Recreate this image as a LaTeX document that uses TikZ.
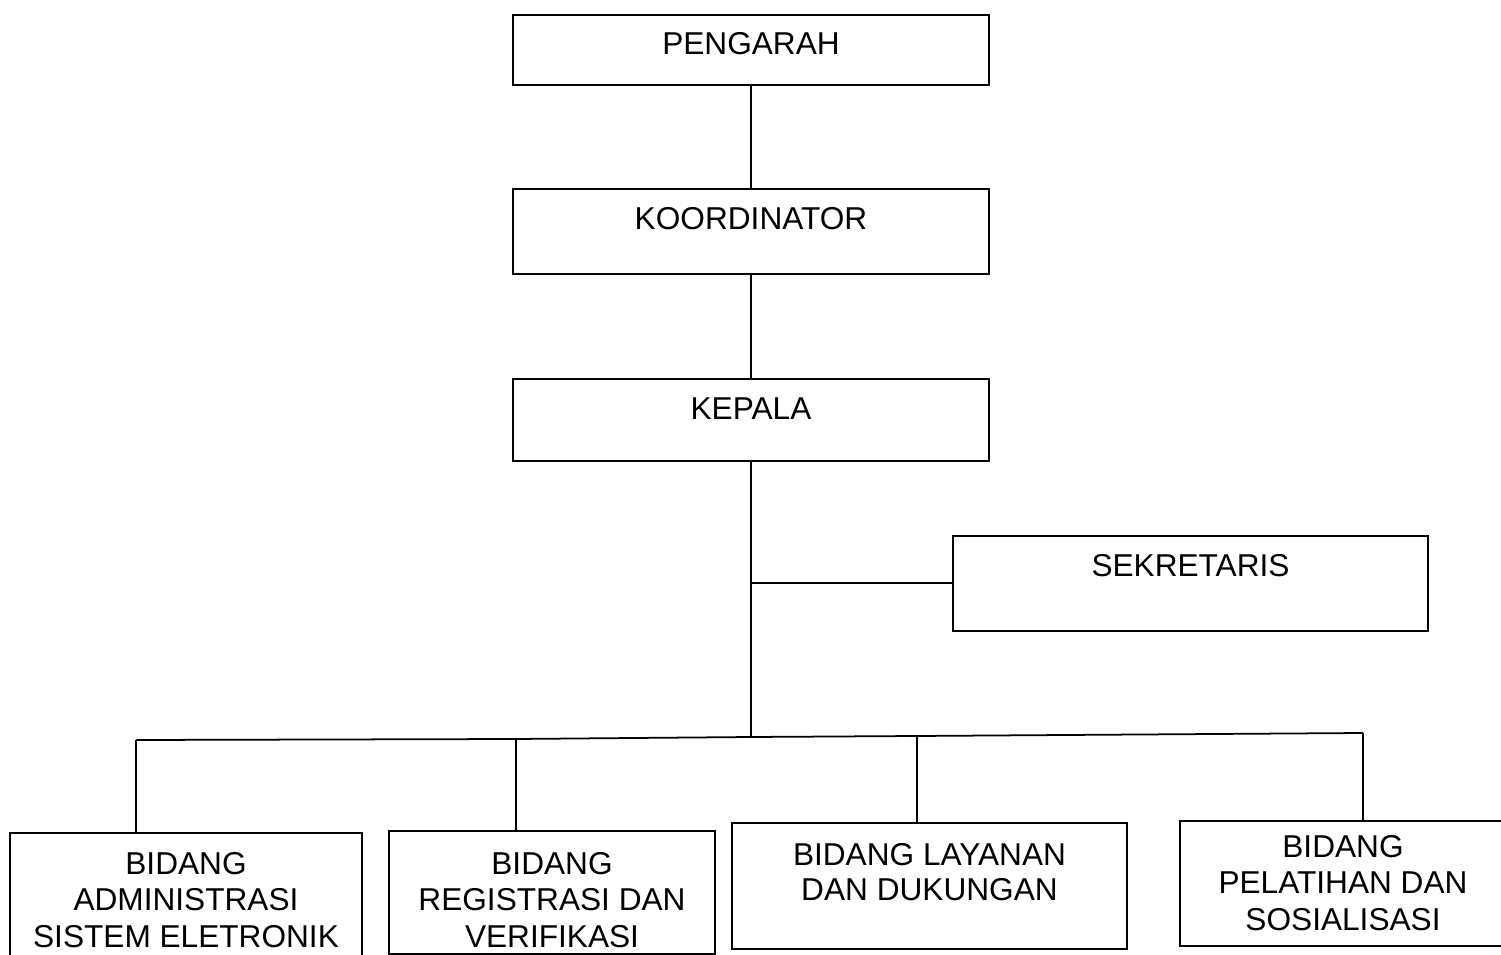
\documentclass[tikz,border=0pt]{standalone}
\usepackage{fontspec}
\setmainfont{Liberation Sans}
\tikzset{
  unit/.style={draw, line width=1pt, inner xsep=0pt, inner ysep=0pt,
    align=center, anchor=north, font=\fontsize{18}{21}\selectfont},
  link/.style={line width=1pt}
}
\begin{document}
\begin{tikzpicture}[x=0.02cm, y=-0.02cm]
  \useasboundingbox (0,0) rectangle (1501,955);
  \clip (0,0) rectangle (1501,955);
  % Top chain
  \node[unit, minimum width=9.52cm, text height=0.8cm, text depth=0.6cm]
    (pengarah) at (751,14) {PENGARAH};
  \node[unit, minimum width=9.52cm, text height=0.82cm, text depth=0.88cm]
    (koordinator) at (751,188) {KOORDINATOR};
  \node[unit, minimum width=9.52cm, text height=0.82cm, text depth=0.82cm]
    (kepala) at (751,378) {KEPALA};
  \node[unit, minimum width=9.5cm, text height=0.82cm, text depth=1.08cm]
    (sekretaris) at (1190.5,535) {SEKRETARIS};
  % Bidang
  \node[unit, minimum width=7.04cm, text height=2.3cm, text depth=0.56cm]
    (adm) at (186,832) {BIDANG\\ADMINISTRASI\\SISTEM ELETRONIK};
  \node[unit, minimum width=6.52cm, text height=2.34cm, text depth=0.12cm]
    (reg) at (552,830) {BIDANG\\REGISTRASI DAN\\VERIFIKASI};
  \node[unit, minimum width=7.9cm, text height=1.56cm, text depth=0.96cm,
    font=\fontsize{18}{20}\selectfont]
    (lay) at (929.5,822) {BIDANG LAYANAN\\DAN DUKUNGAN};
  \node[unit, minimum width=6.52cm, text height=2.2cm, text depth=0.3cm]
    (pel) at (1343,820) {BIDANG\\PELATIHAN DAN\\SOSIALISASI};
  % Bus
  \coordinate (bus) at (751,737);
  \coordinate (d1) at (136,740);
  \coordinate (d2) at (516,739);
  \coordinate (d3) at (917,736);
  \coordinate (d4) at (1363,733);
  % Connectors
  \draw[link] (pengarah.south) -- (koordinator.north);
  \draw[link] (koordinator.south) -- (kepala.north);
  \draw[link] (kepala.south) -- (bus);
  \draw[link] (sekretaris.west) -- (sekretaris.west -| kepala.south);
  \draw[link] (d1) -- (d2) -- (bus) -- (d3) -- (d4);
  \draw[link] (d1) -- (d1 |- adm.north);
  \draw[link] (d2) -- (d2 |- reg.north);
  \draw[link] (d3) -- (d3 |- lay.north);
  \draw[link] (d4) -- (d4 |- pel.north);
\end{tikzpicture}
\end{document}
